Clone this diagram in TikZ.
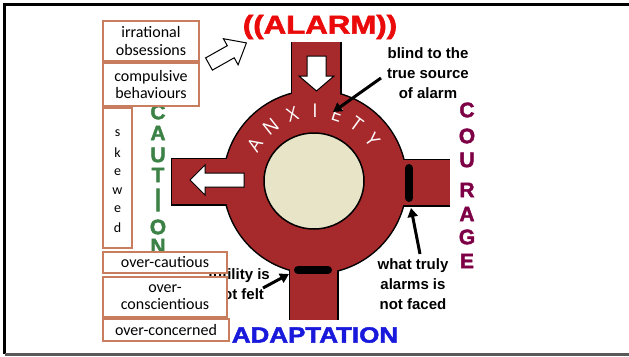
\documentclass[tikz,border=0pt]{standalone}
\usepackage{fontspec}
\setmainfont{Carlito}
\newfontfamily\labfont{Liberation Sans}
\newfontfamily\heavyfont{Liberation Sans Bold}[FakeBold=2]
\newfontfamily\thinfont{Open Sans}
\usetikzlibrary{arrows.meta}
\definecolor{road}{RGB}{166,41,44}
\definecolor{isle}{RGB}{232,228,200}
\definecolor{boxline}{RGB}{200,125,95}
\definecolor{alarmred}{RGB}{235,10,10}
\definecolor{cgreen}{RGB}{60,130,70}
\definecolor{cpurple}{RGB}{125,0,70}
\definecolor{adblue}{RGB}{25,25,220}
\tikzset{
  boxstyle/.style={draw=boxline, fill=white, line width=1.2pt, inner sep=0pt, align=center,
     font=\fontsize{16}{17.5}\selectfont},
  lab/.style={font=\labfont\bfseries\fontsize{15}{20}\selectfont, align=center, inner sep=0pt},
  pointer/.style={line width=3pt, -{Triangle[length=9pt,width=10pt]}},
  outline/.style={line width=3pt, draw=black},
  whitearrow/.style={fill=white, draw=black, line width=1pt, line join=miter},
  anx/.style={text=white, font=\thinfont\fontsize{19}{19}\selectfont, inner sep=0pt},
  cletter/.style={font=\heavyfont\fontsize{21}{21}\selectfont, inner sep=0pt},
  pill/.style={line width=8pt, line cap=round, draw=black}
}
\begin{document}
\begin{tikzpicture}[x=1pt,y=-1pt]
\useasboundingbox (0,0) rectangle (629,356);
% frame
\draw[line width=2.5pt] (4.7,354) -- (4.7,4.7) -- (629,4.7);
\draw[black!65, line width=2.5pt] (4.7,354.7) -- (629,354.7);

% ---------- roundabout outlines ----------
\draw[outline] (315,182) circle [radius=91];
\draw[outline] (292,42) -- (292,140) (340,42) -- (340,140);
\draw[outline] (290,320) -- (290,230) (337,320) -- (337,230);
\draw[outline] (172,159) rectangle (262,204);
\draw[outline] (450,160) -- (370,160) (450,205) -- (370,205);
% ---------- roundabout fills ----------
\fill[road] (315,182) circle [radius=91];
\fill[road] (292,42) rectangle (340,140);
\fill[road] (290,230) rectangle (337,320);
\fill[road] (172,159) rectangle (262,204);
\fill[road] (370,160) rectangle (450,205);
% island
\draw[fill=isle, line width=1.5pt] (314,181) ellipse [x radius=50, y radius=48];

% pills
\draw[pill] (409,168) -- (409,198);
\draw[pill] (298,270) -- (328,270);

% white arrows
\draw[whitearrow] (307,56) -- (326,56) -- (326,76) -- (334,76) -- (316.5,91) -- (299,76) -- (307,76) -- cycle;
\draw[whitearrow] (244,173) -- (205,173) -- (205,165) -- (190,180) -- (205,195) -- (205,187) -- (244,187) -- cycle;
% hollow arrow to ALARM
\draw[whitearrow] (212.4,70.1) -- (234.2,57.8) -- (238.1,64.8) -- (246.4,42.9) -- (223.4,38.7) -- (227.3,45.7) -- (205.6,57.9) -- cycle;

% ANXIETY
\foreach \l/\a [count=\i] in {A/148,N/128.5,X/108.5,I/90,E/72,T/54,Y/36} {
  \node[anx, rotate=\a-90] (anx\i) at ({315+71*cos(\a)},{182-71*sin(\a)}) {\l};
}

% ((ALARM))
\node[text=alarmred, font=\heavyfont\fontsize{26}{26}\selectfont, inner sep=0pt] (alarm) at (320,27) {\scalebox{1.2}[1]{((ALARM))}};

% ADAPTATION
\node[text=adblue, font=\heavyfont\fontsize{22}{22}\selectfont, inner sep=0pt] (adapt) at (315,335) {\scalebox{1.18}[1]{ADAPTATION}};

% COURAGE
\foreach \l/\y [count=\i] in {C/110,O/136,U/160,R/190,A/214,G/237,E/261} {
  \node[cletter, text=cpurple] (co\i) at (467,\y) {\l};
}
% CAUTION
\foreach \l/\y [count=\i] in {C/112,A/133,U/155,T/175,O/227,N/246} {
  \node[cletter, text=cgreen] (ca\i) at (158,\y) {\l};
}
\node[cletter, text=cgreen] (caI) at (158,200) {\scalebox{1}[1.55]{I}};

% labels
\node[lab] (blind) at (428,73) {blind to the\\true source\\of alarm};
\node[lab] (truly) at (413,284) {what truly\\alarms is\\not faced};
\node[lab] (felt) at (239,284) {futility is\\not felt};

% connectors
\coordinate (blindtail) at (381,78);
\coordinate (blindtip) at (333,112);
\draw[pointer] (blindtail) -- (blindtip);
\coordinate (trulytail) at (420,254);
\coordinate (trulytip) at (411,208);
\draw[pointer] (trulytail) -- (trulytip);
\coordinate (felttail) at (263,288);
\coordinate (felttip) at (289,274);
\draw[pointer] (felttail) -- (felttip);

% left boxes
\node[boxstyle, minimum width=96pt, minimum height=40pt] (obs) at (151,41) {irrational\\obsessions};
\node[boxstyle, minimum width=96pt, minimum height=43pt] (comp) at (151,84.5) {compulsive\\behaviours};
\node[boxstyle, minimum width=29pt, minimum height=140pt] (skew) at (117.5,178) {};
\foreach \l/\y [count=\i] in {s/133,k/153,e/172,w/191,e/209,d/228} {
  \node[font=\fontsize{14}{14}\selectfont, inner sep=0pt] (sk\i) at (117.5,\y) {\l};
}
\node[boxstyle, minimum width=124pt, minimum height=21pt] (ocaut) at (165,262.5) {over-cautious};
\node[boxstyle, minimum width=124pt, minimum height=40pt] (ocons) at (165,297) {over-\\conscientious};
\node[boxstyle, minimum width=126pt, minimum height=22pt] (oconc) at (166,330) {over-concerned};
\end{tikzpicture}
\end{document}
